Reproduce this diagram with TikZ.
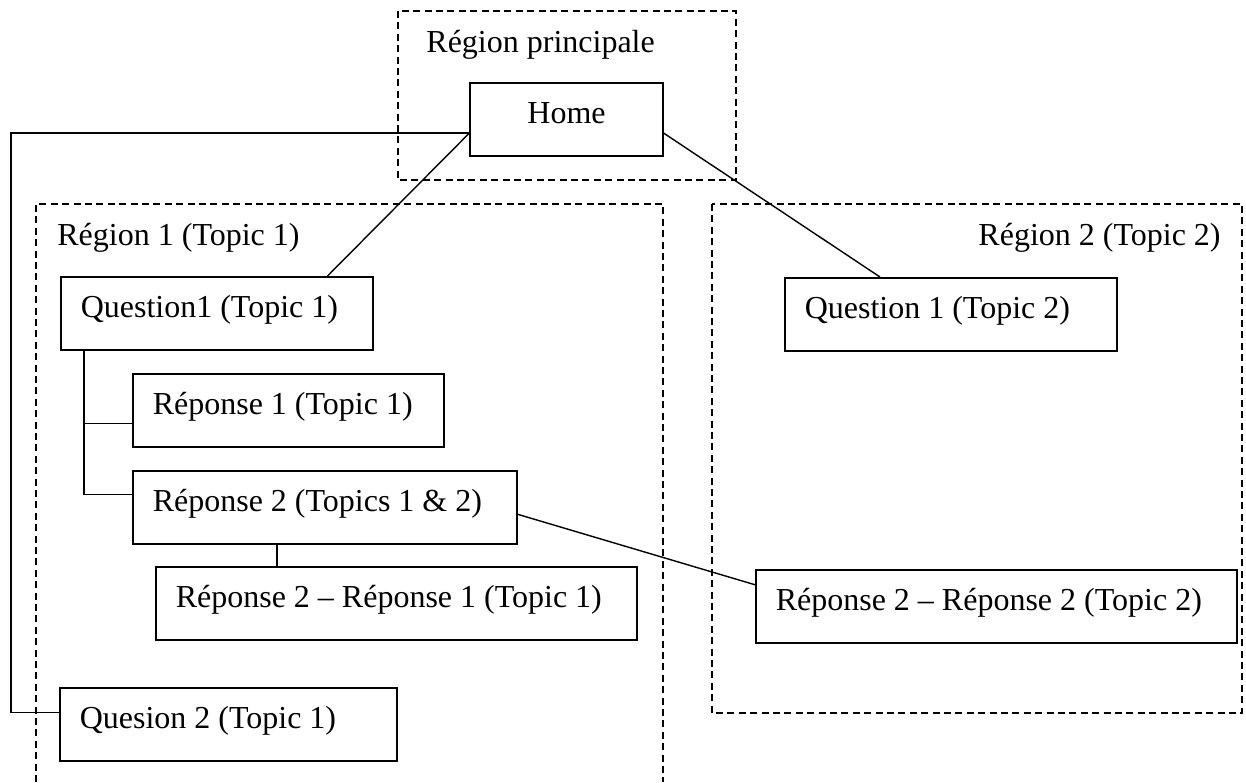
\documentclass[tikz,border=0pt]{standalone}
\usepackage{fontspec}
\setmainfont{Liberation Serif}

\tikzset{
    box/.style={draw, fill=white, line width=0.75pt, anchor=north west, align=flush left,
        text width=#1, inner xsep=10pt, minimum height=36.5pt,
        text height=0.72em, text depth=0.3em},
    homebox/.style={draw, fill=white, line width=0.75pt, minimum width=96.5pt,
        minimum height=36.5pt, text height=0.72em, text depth=0.3em},
    region/.style={line width=0.75pt, dash pattern=on 3.5pt off 2.2pt},
    link/.style={line width=0.7pt},
    regionlabel/.style={inner sep=0pt}
}

\begin{document}
\begin{tikzpicture}[x=0.5pt, y=-0.5pt, font=\fontsize{16}{19}\selectfont]
    \useasboundingbox (0,0) rectangle (1246,782);

    % Draw the dashed regions
    \draw[region] (398,11) rectangle (736,180);
    \draw[region] (36,782) -- (36,204) -- (663,204) -- (663,782);
    \draw[region] (712,204) rectangle (1242,713);

    % Region labels
    \node[regionlabel, anchor=base west] (lblmain) at (426,52) {Région principale};
    \node[regionlabel, anchor=base west] (lblone) at (57,245) {Région 1 (Topic 1)};
    \node[regionlabel, anchor=base east] (lbltwo) at (1221,245) {Région 2 (Topic 2)};

    % Draw the boxes
    \node[homebox] (home) at (566.5,119.5) {Home};
    \node[box=136pt] (qone) at (60,276) {Question1 (Topic 1)};
    \node[box=135.5pt] (rone) at (132,373) {Réponse 1 (Topic 1)};
    \node[box=172pt] (rtwo) at (132,470) {Réponse 2 (Topics 1 \& 2)};
    \node[box=220.5pt] (rtwoone) at (155,566) {Réponse 2 – Réponse 1 (Topic 1)};
    \node[box=148.5pt] (qtwo) at (59,687) {Quesion 2 (Topic 1)};
    \node[box=146pt] (tqone) at (784,277) {Question 1 (Topic 2)};
    \node[box=220.5pt] (rtwotwo) at (755,569) {Réponse 2 – Réponse 2 (Topic 2)};

    % Helper coordinates
    \coordinate (leftrail) at (11,0);
    \coordinate (trunk) at ([xshift=12pt]qone.south west);
    \coordinate (stem) at ([xshift=72.5pt]rtwo.south west);

    % Draw the connectors
    \draw[link] (home.188) -- ([xshift=-23pt]qone.north east);
    \draw[link] (home.-8) -- ([xshift=48pt]tqone.north west);
    \draw[link] (home.188) -- (home.188 -| leftrail) |- ([yshift=6pt]qtwo.west);
    \draw[link] (trunk) |- ([yshift=6.5pt]rtwo.west);
    \draw[link] (trunk) |- ([yshift=-6.5pt]rone.west);
    \draw[link] (stem) -- (stem |- rtwoone.north);
    \draw[link] ([yshift=-3.5pt]rtwo.east) -- ([yshift=10.75pt]rtwotwo.west);
\end{tikzpicture}
\end{document}
